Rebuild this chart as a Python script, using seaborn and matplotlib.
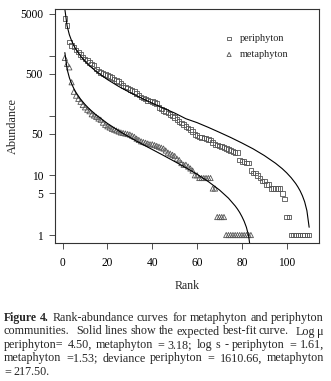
import numpy as np
import pandas as pd
import seaborn as sns
import matplotlib
matplotlib.use("Agg")
import matplotlib.pyplot as plt

periphyton = [4200, 3200, 1700, 1500, 1400, 1250, 1150, 1050, 950, 880,
              840, 780, 730, 680, 600, 560, 530, 510, 490, 470,
              450, 430, 410, 390, 370, 350, 320, 300, 290, 275,
              265, 250, 235, 220, 205, 195, 190, 180, 175, 170,
              165, 160, 135, 128, 122, 118, 110, 104, 98, 92,
              86, 80, 75, 70, 66, 62, 58, 54, 48, 46,
              44, 43, 42, 41, 40, 39, 35, 33, 32, 31,
              30, 29, 28, 27, 26, 25, 24, 24, 18, 17,
              17, 16, 16, 12, 11, 11, 10, 9, 8, 8,
              7, 7, 6, 6, 6, 6, 6, 5, 4, 2,
              2, 1, 1, 1, 1, 1, 1, 1, 1, 1]
metaphyton = [920, 730, 640, 360, 250, 215, 190, 170, 150, 137,
              125, 118, 105, 100, 95, 89, 85, 76, 70, 66,
              63, 60, 58, 56, 54, 52, 51, 50, 49, 48,
              46, 44, 41, 39, 37, 36, 35, 34, 33, 33,
              32, 31, 30, 29, 28, 26, 24, 23, 22, 21,
              19, 18, 16, 15, 15, 14, 13, 12, 10, 10,
              9, 9, 9, 9, 9, 9, 6, 6, 2, 2,
              2, 2, 1, 1, 1, 1, 1, 1, 1, 1,
              1, 1, 1, 1]

# expected best-fit curves
peri_fit_rank = [1, 2, 3, 4, 5, 6, 8, 10, 12, 15, 20, 25, 30, 35, 40, 45, 50,
                 55, 60, 65, 70, 75, 80, 85, 90, 95, 98, 100, 102, 104, 105,
                 106, 107, 108, 109, 110]
peri_fit = [6010, 3160, 2250, 1785, 1480, 1272, 990, 808, 680, 545, 400, 307,
            243, 197, 161, 133, 110, 88.4, 76, 63.4, 52.3, 42.9, 34.7, 27.7,
            21.4, 15.9, 12.9, 10.96, 9.09, 7.28, 6.37, 5.47, 4.54, 3.6, 2.56,
            1.35]
meta_fit_rank = [1, 2, 3, 4, 5, 6, 8, 10, 12, 15, 20, 25, 30, 35, 40, 45, 50,
                 55, 60, 65, 70, 74, 77, 78, 79, 80, 81, 82, 83, 84]
meta_fit = [1130, 597, 430, 340, 283, 242, 188, 153, 128, 102, 73.7, 55.6,
            43.1, 34.0, 27.0, 21.5, 17.0, 13.4, 10.4, 7.85, 5.67, 4.14, 3.07,
            2.73, 2.39, 2.04, 1.70, 1.35, 0.97, 0.51]

y_ticks = [1, 5, 10, 50, 100, 500, 1000, 5000]
y_labels = ["1", "5", "10", "50", "", "500", "", "5000"]
x_ticks = [0, 20, 40, 60, 80, 100]

caption = [
    "Figure 4. Rank-abundance curves for metaphyton and periphyton",
    "communities. Solid lines show the expected best-fit curve. Log \u03bc",
    "periphyton= 4.50, metaphyton = 3.18; log s - periphyton = 1.61,",
    "metaphyton =1.53; deviance periphyton = 1610.66, metaphyton",
    "= 217.50.",
]


def main():
    peri = pd.DataFrame({"rank": np.arange(1, len(periphyton) + 1), "abundance": periphyton})
    meta = pd.DataFrame({"rank": np.arange(1, len(metaphyton) + 1), "abundance": metaphyton})
    peri_curve = pd.DataFrame({"rank": peri_fit_rank, "abundance": peri_fit})
    meta_curve = pd.DataFrame({"rank": meta_fit_rank, "abundance": meta_fit})

    sns.set_style("ticks")
    plt.rcParams["font.family"] = ["Liberation Serif", "DejaVu Serif"]

    fig = plt.figure(figsize=(3.31, 3.81), dpi=100)
    ax = fig.add_axes([55 / 331, 1 - 243 / 381, 264 / 331, 234 / 381])

    pt_color = "#555555"
    sns.scatterplot(x="rank", y="abundance", data=peri, marker="s", s=11,
                    facecolor="none", edgecolor=pt_color, linewidth=0.6,
                    label="periphyton", ax=ax)
    sns.scatterplot(x="rank", y="abundance", data=meta, marker="^", s=14,
                    facecolor="none", edgecolor=pt_color, linewidth=0.6,
                    label="metaphyton", ax=ax)
    sns.lineplot(x="rank", y="abundance", data=peri_curve, color="black",
                 linewidth=0.8, ax=ax, legend=False)
    sns.lineplot(x="rank", y="abundance", data=meta_curve, color="black",
                 linewidth=0.8, ax=ax, legend=False)

    ax.set_yscale("log")
    ax.set_ylim(0.736, 6060)
    ax.set_xlim(-3.4, 114.4)
    ax.set_yticks(y_ticks)
    ax.set_yticklabels(y_labels)
    ax.yaxis.set_minor_locator(matplotlib.ticker.NullLocator())
    ax.set_xticks(x_ticks)
    ax.tick_params(axis="both", direction="out", length=4.3, width=0.6,
                   color="#333333", labelsize=8.3, labelcolor="black")
    ax.tick_params(axis="x", pad=6)
    ax.tick_params(axis="y", pad=4.3)
    for sp in ax.spines.values():
        sp.set_visible(True)
        sp.set_linewidth(0.8)
        sp.set_color("#333333")

    ax.set_xlabel("Rank", fontsize=8.6)
    ax.set_ylabel("Abundance", fontsize=8.8)
    ax.xaxis.set_label_coords(0.5, -0.158)
    ax.yaxis.set_label_coords(-0.135, 0.5)

    ax.legend(loc="upper left", bbox_to_anchor=(0.64, 0.893), frameon=False,
              fontsize=7.4, handletextpad=0.5, labelspacing=0.65,
              handlelength=1.0, borderaxespad=0, borderpad=0, markerscale=0.8)

    # justified caption below the plot
    renderer = fig.canvas.get_renderer()
    x0, x1 = 4, 324
    baselines = [321, 334.5, 348, 361.5, 375]
    fs = 8.7
    fs_bold = 8.5
    sp1 = fig.text(0, 0, "a b", fontsize=fs)
    sp2 = fig.text(0, 0, "ab", fontsize=fs)
    space = sp1.get_window_extent(renderer).width - sp2.get_window_extent(renderer).width
    sp1.remove()
    sp2.remove()
    for i, (line, base) in enumerate(zip(caption, baselines)):
        words = line.split(" ")
        texts = []
        for j, w in enumerate(words):
            bold = i == 0 and j < 2
            t = fig.text(0, 1 - base / 381, w, fontsize=fs_bold if bold else fs,
                         va="baseline", ha="left",
                         fontweight="bold" if bold else "normal")
            texts.append(t)
        widths = [t.get_window_extent(renderer).width for t in texts]
        # sentence ends get a wider gap, like the typeset original
        weights = [2.5 if (w.endswith(".") and w != "4.") else 1.0 for w in words[:-1]]
        if i == len(caption) - 1:
            gaps = [space] * len(weights)
        else:
            unit = max((x1 - x0 - sum(widths)) / sum(weights), 1.0)
            gaps = [unit * k for k in weights]
        x = x0
        for k, (t, w) in enumerate(zip(texts, widths)):
            t.set_x(x / 331)
            if k < len(gaps):
                x += w + gaps[k]

    fig.savefig("out.png", dpi=100)


if __name__ == "__main__":
    main()
